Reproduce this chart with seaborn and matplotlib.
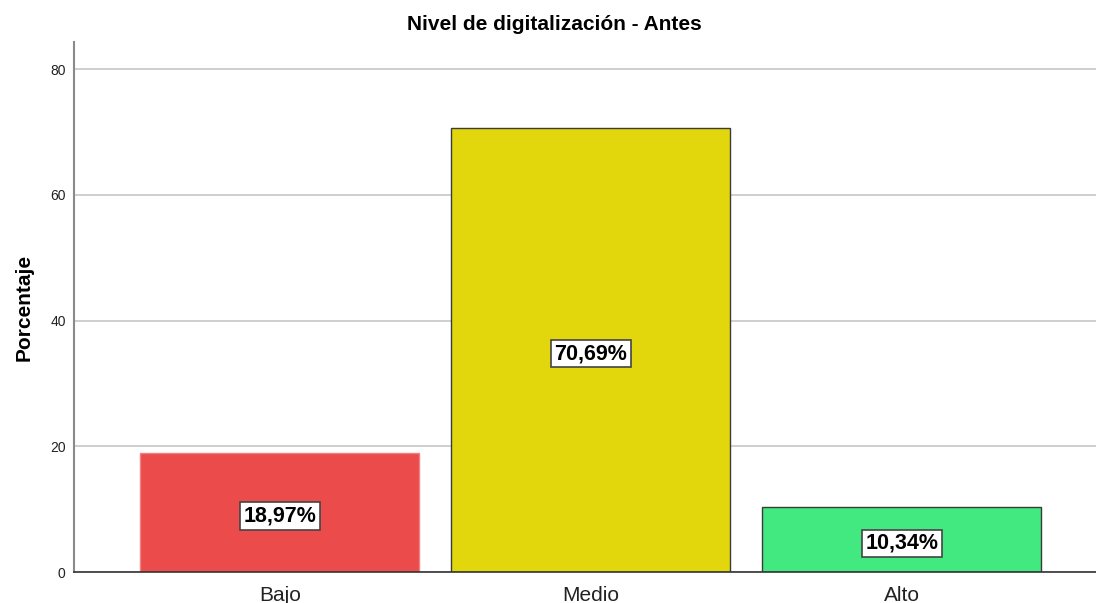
import matplotlib
matplotlib.use("Agg")
from matplotlib import pyplot as plt
import seaborn as sns
import pandas as pd

niveles = ["Bajo", "Medio", "Alto"]
porcentajes = [18.97, 70.69, 10.34]
etiquetas = ["18,97%", "70,69%", "10,34%"]
colores = ["#EB4B4B", "#E2D70C", "#42E880"]
bordes = ["#F08080", "#3A3A3A", "#3A3A3A"]
y_ticks = [0, 20, 40, 60, 80]

sns.set_theme(style="white")
plt.rcParams['font.family'] = ['Liberation Sans', 'DejaVu Sans']

df = pd.DataFrame({"Nivel": niveles, "Porcentaje": porcentajes})

fig = plt.figure(figsize=(10.96, 6.03), dpi=100)
ax = fig.add_axes([0.0675, 0.0514, 0.9325, 0.879])

g = sns.barplot(data=df, x="Nivel", y="Porcentaje", hue="Nivel", palette=colores,
                width=0.897, legend=False, saturation=1, ax=ax, zorder=2)
for bar, ec in zip(ax.patches, bordes):
    bar.set_edgecolor(ec)
    bar.set_linewidth(1.0)

for i, (v, t) in enumerate(zip(porcentajes, etiquetas)):
    ax.text(i, v / 2 - 0.6, t, ha="center", va="center", fontsize=15.5, fontweight="bold",
            color="black", zorder=4,
            bbox=dict(boxstyle="square,pad=0.15", facecolor="white", edgecolor="#444444", linewidth=1.2))

ax.set_xlim(-0.662, 2.624)
ax.set_ylim(0, 84.3)
ax.set_yticks(y_ticks)
ax.set_yticklabels([str(t) for t in y_ticks], fontsize=10, color="#222222")
ax.tick_params(axis="x", labelsize=15, colors="#222222", length=0, pad=10)
ax.tick_params(axis="y", length=0, pad=6)
ax.yaxis.grid(True, color="#CCCCCC", linewidth=1.3, zorder=0)
ax.set_axisbelow(True)

sns.despine(ax=ax, top=True, right=True)
ax.spines["left"].set_color("#8A8A8A")
ax.spines["left"].set_linewidth(1.5)
ax.spines["bottom"].set_color("#333333")
ax.spines["bottom"].set_linewidth(1.2)

g.set(xlabel=None)
ax.set_ylabel("Porcentaje", fontsize=15, fontweight="bold", color="black", labelpad=12)
fig.suptitle("Nivel de digitalización - Antes", x=0.506, y=0.975, fontsize=15,
             fontweight="bold", color="black")

fig.savefig("out.png", dpi=100)
